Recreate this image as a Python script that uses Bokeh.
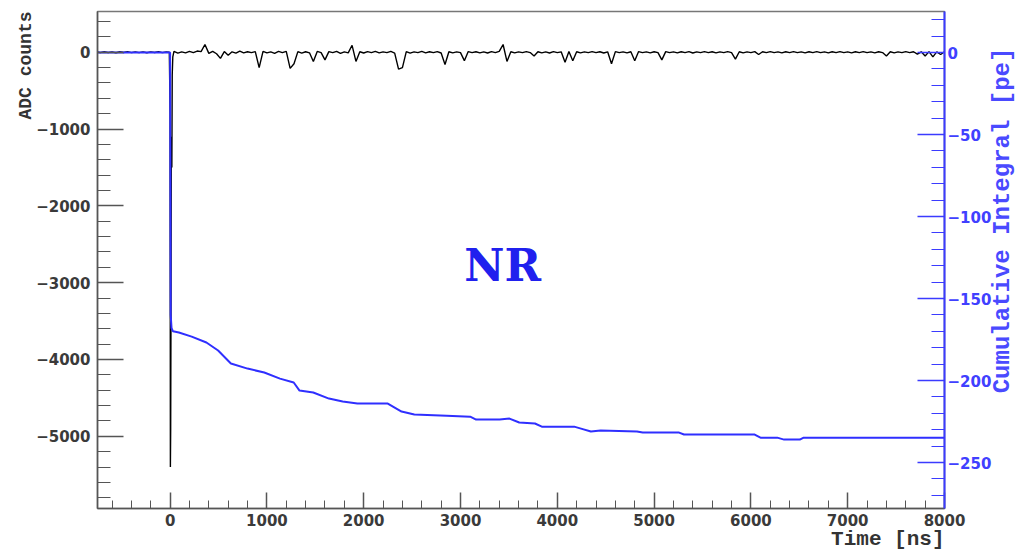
import math
from bokeh.plotting import figure
from bokeh.models import Range1d, LinearAxis, SingleIntervalTicker, Label, Title
from bokeh.embed import file_html
from bokeh.resources import INLINE

# ---------------- data ----------------
# pre-trigger baseline (ADC counts), sampled every 40 ns from -760 to -40 ns
pre_t = list(range(-760, -39, 40))
pre_adc = [5, -5, 8, -6, 4, -8, 6, -4, 7, -5, 3, -6, 5, -7, 4, -3, 6, -5, 2]

# main pulse around t = 0
pulse_t = [-8, 0, 3, 6, 9, 12, 15, 18, 22, 28]
pulse_adc = [0, -800, -5400, -4900, -3500, -1400, -1100, -1500, -300, -60]

# post-pulse baseline with single-photon spikes, sampled every 40 ns from 40 to 8000 ns
noise_t = list(range(40, 8001, 40))
noise_adc = [
    10, -12, 5, -8, 12, -6, 15, 8, 100, -15, 12, -20, -80, 8, -40, 5, -12, 15, -8, 6,
    -5, 8, -200, 12, -8, 5, -15, 10, -6, 12, -210, -150, 8, -12, 6, -8, -120, 10, -5, -100,
    8, -6, 12, -15, 5, -8, 90, -120, 6, -10, 8, -5, 12, -8, 5, -6, 10, -12, -220, -200,
    8, -12, 5, -6, 10, -8, 6, -5, 8, -10, -160, 6, -8, 5, -6, -110, 8, -5, 6, -8,
    5, -10, 8, -6, 12, 100, -120, 6, -8, 5, -6, 8, -5, -50, 6, -8, 5, -10, 8, -6,
    5, -130, 8, -110, 6, -8, 5, -6, 8, -5, 6, -10, 5, -150, 8, -6, 5, -8, 6, -110,
    8, -6, 5, -8, 6, -5, -100, 8, -6, 5, -8, 6, -5, 8, -10, 5, -6, 8, -5, 6,
    -8, 5, -6, 8, -5, -90, 6, -8, 5, -6, 8, -30, 6, -5, 8, -6, 5, -8, 6, -5,
    8, -6, 5, -8, 6, -5, 8, -6, 5, -8, 6, -5, 8, -6, 5, -8, 6, -5, 8, -6,
    5, -8, 6, -5, -50, 6, -8, 5, -6, 8, -5, 6, -25, 5, -50, 8, -60, 5, -30, 6,
]

sig_t = pre_t + pulse_t + noise_t
sig_adc = pre_adc + pulse_adc + noise_adc

# cumulative integral (pe)
cum_t = [-760, 0, 6, 15, 30, 91, 223, 375, 496, 628, 800, 973, 1135, 1277, 1337, 1479, 1641,
         1783, 1935, 2249, 2391, 2523, 2857, 3100, 3161, 3404, 3506, 3607, 3769, 3840, 4174,
         4245, 4347, 4448, 4823, 4883, 5258, 5309, 6039, 6099, 6272, 6343, 6505, 6545, 8000]
cum_pe = [0, 0, -160, -168, -170, -170.7, -173.2, -176.8, -181.7, -189.6, -192.7, -195.1,
          -198.8, -201.2, -206.1, -207.3, -211.0, -212.8, -214.0, -214.0, -218.9, -220.7,
          -221.4, -222.0, -223.8, -223.8, -223.2, -225.6, -226.2, -228.1, -228.1, -229.3,
          -231.1, -230.5, -231.1, -231.7, -231.7, -232.9, -232.9, -234.8, -234.8, -236.0,
          -236.0, -234.8, -234.8]

x_title = "Time [ns]"
y_title = "ADC counts"
y2_title = "Cumulative Integral [pe]"

x_lo, x_hi = -750, 8000
adc_lo, adc_hi = -5940, 530
pe_lo, pe_hi = -278, 25

GREY = "#555555"
BLUE = "#3b3bff"
TICKFONT = "DejaVu Sans"
MONO = "Liberation Mono"

p = figure(width=1032, height=550, output_backend="svg", toolbar_location=None,
           x_range=Range1d(x_lo, x_hi), y_range=Range1d(adc_lo, adc_hi),
           min_border_left=97, min_border_right=71, min_border_top=11, min_border_bottom=42,
           x_axis_type=None, y_axis_type=None)
p.extra_y_ranges = {"pe": Range1d(pe_lo, pe_hi)}
p.xgrid.grid_line_color = None
p.ygrid.grid_line_color = None
p.outline_line_color = "#777777"
p.outline_line_width = 1.5
p.background_fill_color = "white"
p.border_fill_color = "white"


def style_axis(ax, color, label_color, tick_in, minor_in, standoff):
    ax.axis_line_color = color
    ax.major_tick_line_color = color
    ax.minor_tick_line_color = color
    ax.major_tick_in = tick_in
    ax.major_tick_out = 0
    ax.minor_tick_in = minor_in
    ax.minor_tick_out = 0
    ax.major_label_text_font = TICKFONT
    ax.major_label_text_font_style = "bold"
    ax.major_label_text_font_size = "15px"
    ax.major_label_text_color = label_color
    ax.major_label_standoff = standoff


xax = LinearAxis(ticker=SingleIntervalTicker(interval=1000, num_minor_ticks=5))
style_axis(xax, GREY, "#3a3a3a", 16, 8, 5)
xax.axis_line_width = 1.5
xax.major_tick_line_width = 1.5
p.add_layout(xax, "below")

yax = LinearAxis(ticker=SingleIntervalTicker(interval=1000, num_minor_ticks=5))
style_axis(yax, GREY, "#3a3a3a", 26, 13, 7)
yax.axis_line_width = 1.5
yax.major_tick_line_width = 1.5
p.add_layout(yax, "left")

rax = LinearAxis(y_range_name="pe", ticker=SingleIntervalTicker(interval=50, num_minor_ticks=5))
style_axis(rax, BLUE, "#4040ff", 27, 13, 3)
rax.axis_line_width = 2
rax.major_tick_line_width = 1.5
rax.axis_label_text_font = MONO
rax.axis_label_text_font_style = "bold"
rax.axis_label_text_font_size = "24px"
rax.axis_label_text_color = "#4a4aff"
rax.axis_label_standoff = 8
props = rax.properties()
if "axis_label_align" in props and "axis_label_orientation" in props:
    rax.axis_label_align = "start"
    rax.axis_label_orientation = math.pi / 2
    rax.axis_label = "\u00a0" * 8 + y2_title
else:
    rax.axis_label = y2_title
p.add_layout(rax, "right")

p.add_layout(Title(text=x_title, align="right", text_font=MONO, text_font_style="bold",
                   text_font_size="21px", text_color="#333333", standoff=-6), "below")
p.add_layout(Title(text=y_title, align="right", text_font=MONO, text_font_style="bold",
                   text_font_size="18px", text_color="#333333", standoff=-4), "left")

p.line(sig_t, sig_adc, line_color="black", line_width=1.4)
p.line(cum_t, cum_pe, y_range_name="pe", line_color="#2f2fff", line_width=2)

p.add_layout(Label(x=3435, y=-2773, text="NR", text_font="DejaVu Serif", text_font_style="bold",
                   text_font_size="44px", text_color="#2020ee", text_align="center",
                   text_baseline="middle"))

open("out.html", "w").write(file_html(p, INLINE))
